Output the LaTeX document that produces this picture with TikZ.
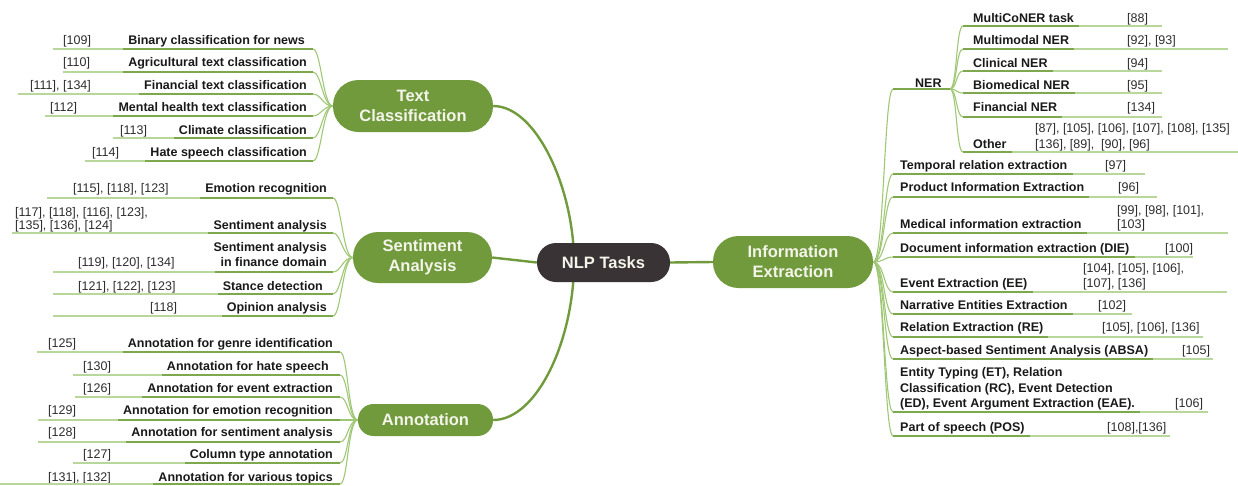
\documentclass[tikz,border=0pt]{standalone}
\usepackage{fontspec}
\setmainfont{Liberation Sans}
\usetikzlibrary{calc,backgrounds}
\definecolor{pillgreen}{RGB}{112,154,60}
\definecolor{hubdark}{RGB}{58,51,53}
\definecolor{ullight}{RGB}{186,215,155}
\definecolor{uldark}{RGB}{126,168,78}
\definecolor{subgreen}{RGB}{160,199,118}
\definecolor{txtc}{RGB}{25,25,25}
\definecolor{citc}{RGB}{45,45,45}
\definecolor{pilltext}{RGB}{244,244,234}
\tikzset{
  pill/.style={rectangle, fill=pillgreen, text=pilltext, font=\fontsize{16.5}{20}\selectfont\bfseries, align=center, inner sep=0pt},
  hubnode/.style={pill, fill=hubdark},
  lbl/.style={inner sep=0pt, text=txtc, font=\fontsize{12.5}{15}\selectfont\bfseries},
  cit/.style={inner sep=0pt, text=citc, font=\fontsize{12.5}{15}\selectfont},
  ulight/.style={draw=ullight, line width=1.2pt},
  udark/.style={draw=uldark, line width=1.5pt},
  subline/.style={draw=subgreen, line width=1.1pt},
  mainline/.style={draw=pillgreen, line width=2.4pt},
}
% left item: name, label, label right x, centre y, citation, citation x, underline y, line left, line right
\newcommand\LItem[9]{%
  \node[lbl, anchor=base east] (#1) at (#3,#4+4.5) {#2};
  \node[cit, anchor=base west] (#1c) at (#6,#4+4.5) {#5};
  \coordinate (#1l) at (#8,#7);
  \coordinate (#1r) at (#9,#7);
  \draw[ulight] (#1l) -- (#1r);
  \draw[udark] ($(#1.west |- #1r)+(-5,0)$) -- (#1r);
}
% right item: name, label, centre y, citation, citation x, underline y, line left, line right, label x
\newcommand\RItem[9]{%
  \node[lbl, anchor=base west] (#1) at (#9,#3+4.5) {#2};
  \node[cit, anchor=base west] (#1c) at (#5,#3+4.5) {#4};
  \coordinate (#1l) at (#7,#6);
  \coordinate (#1r) at (#8,#6);
  \draw[ulight] (#1l) -- (#1r);
  \draw[udark] (#1l) -- ($(#1.east |- #1l)+(5,0)$);
}
\begin{document}
\begin{tikzpicture}[x=1pt,y=-1pt]
\useasboundingbox (0,0) rectangle (1238,485);

% main nodes
\node[pill, minimum width=160pt, minimum height=52pt, rounded corners=25.5pt] (tc) at (413,106) {Text\\Classification};
\node[pill, minimum width=139pt, minimum height=51pt, rounded corners=25pt] (sa) at (422.5,257.5) {Sentiment\\Analysis};
\node[pill, minimum width=135pt, minimum height=32pt, rounded corners=15.5pt] (an) at (425.5,420) {Annotation};
\node[hubnode, minimum width=133pt, minimum height=39pt, rounded corners=19pt] (nlp) at (603.5,262.5) {NLP Tasks};
\node[pill, minimum width=160pt, minimum height=52pt, rounded corners=25.5pt] (ie) at (793,262) {Information\\Extraction};
\coordinate (hub) at (574,262);

% Text Classification items
\LItem{tc1}{Binary classification for news}{305}{40}{[109]}{63}{49}{53}{313}
\LItem{tc2}{Agricultural text classification}{307}{62}{[110]}{63}{72}{63}{313}
\LItem{tc3}{Financial text classification}{307}{85}{[111], [134]}{30}{94}{18}{313}
\LItem{tc4}{Mental health text classification}{307}{107}{[112]}{50}{116}{45}{313}
\LItem{tc5}{Climate classification}{307}{130}{[113]}{120}{138}{113}{313}
\LItem{tc6}{Hate speech classification}{307}{152}{[114]}{92}{161}{85}{313}

% Sentiment Analysis items
\LItem{sa1}{Emotion recognition}{327}{188}{[115], [118], [123]}{73}{198}{47}{333}
\LItem{sa2}{Sentiment analysis}{327}{225}{[135], [136], [124]}{15}{233}{12}{333}
\node[cit, anchor=base west] (sa2cb) at (15,216.5) {[117], [118], [116], [123],};
\LItem{sa3}{in finance domain}{327}{262}{[119], [120], [134]}{78}{272}{53}{333}
\node[lbl, anchor=base east] (sa3b) at (327,251.5) {Sentiment analysis};
\LItem{sa4}{Stance detection}{323}{286}{[121], [122], [123]}{78}{294}{53}{333}
\LItem{sa5}{Opinion analysis}{327}{307}{[118]}{150}{316}{53}{333}

% Annotation items
\LItem{an1}{Annotation for genre identification}{333}{343}{[125]}{48}{352}{37}{340}
\LItem{an2}{Annotation for hate speech}{329}{366}{[130]}{83}{375}{73}{340}
\LItem{an3}{Annotation for event extraction}{333}{388}{[126]}{83}{397}{75}{340}
\LItem{an4}{Annotation for emotion recognition}{333}{410}{[129]}{48}{420}{38}{340}
\LItem{an5}{Annotation for sentiment analysis}{333}{432}{[128]}{48}{442}{38}{340}
\LItem{an6}{Column type annotation}{333}{454}{[127]}{83}{463}{73}{340}
\LItem{an7}{Annotation for various topics}{333}{477}{[131], [132]}{48}{484}{0}{340}

% NER
\node[lbl, anchor=base west] (ner) at (915,87.5) {NER};
\coordinate (nerl) at (893,89);
\coordinate (nerr) at (950,89);
\draw[udark] (nerl) -- (nerr);
\RItem{n1}{MultiCoNER task}{18}{[88]}{1127}{26}{963}{1162}{973}
\RItem{n2}{Multimodal NER}{40}{[92], [93]}{1127}{49}{963}{1228}{973}
\RItem{n3}{Clinical NER}{63}{[94]}{1127}{71}{963}{1162}{973}
\RItem{n4}{Biomedical NER}{85}{[95]}{1127}{93}{963}{1162}{973}
\RItem{n5}{Financial NER}{107}{[134]}{1127}{117}{963}{1162}{973}
\RItem{n6}{Other}{144}{[136], [89],\ \ [90], [96]}{1035}{152}{963}{1238}{973}
\node[cit, anchor=base west] (n6cb) at (1035,132.5) {[87], [105], [106], [107], [108], [135]};

% Information Extraction items
\RItem{r1}{Temporal relation extraction}{165}{[97]}{1105}{174}{893}{1145}{900}
\RItem{r2}{Product Information Extraction}{187}{[96]}{1118}{197}{893}{1157}{900}
\RItem{r3}{Medical information extraction}{224}{[103]}{1117}{233}{893}{1228}{900}
\node[cit, anchor=base west] (r3cb) at (1117,214.5) {[99], [98], [101],};
\RItem{r4}{Document information extraction (DIE)}{248}{[100]}{1165}{257}{893}{1193}{900}
\RItem{r5}{Event Extraction (EE)}{283}{[107], [136]}{1083}{292}{893}{1227}{900}
\node[cit, anchor=base west] (r5cb) at (1083,272.5) {[104], [105], [106],};
\RItem{r6}{Narrative Entities Extraction}{305}{[102]}{1098}{314}{893}{1132}{900}
\RItem{r7}{Relation Extraction (RE)}{327}{[105], [106], [136]}{1102}{337}{893}{1203}{900}
\RItem{r8}{Aspect-based Sentiment Analysis (ABSA)}{350}{[105]}{1182}{359}{893}{1213}{900}
\RItem{r9}{(ED), Event Argument Extraction (EAE).}{403}{[106]}{1175}{412}{893}{1208}{900}
\node[lbl, anchor=base west] (r9a) at (900,376.5) {Entity Typing (ET), Relation};
\node[lbl, anchor=base west] (r9b) at (900,392.5) {Classification (RC), Event Detection};
\RItem{r10}{Part of speech (POS)}{427}{[108],[136]}{1107}{436}{893}{1170}{900}

\begin{scope}[on background layer]
  % main connectors
  \draw[mainline] (tc.east) .. controls (537,106) and (574,190) .. (hub);
  \draw[mainline] (an.east) .. controls (537,420) and (574,340) .. (hub);
  \draw[mainline] (sa.east) -- (nlp.west);
  \draw[mainline] (nlp.east) -- (ie.west);
  % left fans
  \foreach \i in {1,...,6} {\draw[subline] (tc\i r) .. controls +(8,0) and +(-10,0) .. (tc.west);}
  \foreach \i in {1,...,5} {\draw[subline] (sa\i r) .. controls +(8,0) and +(-10,0) .. (sa.west);}
  \foreach \i in {1,...,7} {\draw[subline] (an\i r) .. controls +(8,0) and +(-10,0) .. (an.west);}
  % right trunk
  \draw[subline] (ie.east) .. controls +(11,0) and +(-9,0) .. (nerl);
  \foreach \i in {1,...,10} {\draw[subline] (ie.east) .. controls +(11,0) and +(-9,0) .. (r\i l);}
  \foreach \i in {1,...,6} {\draw[subline] (nerr) .. controls +(7,0) and +(-7,0) .. (n\i l);}
\end{scope}
\end{tikzpicture}
\end{document}
